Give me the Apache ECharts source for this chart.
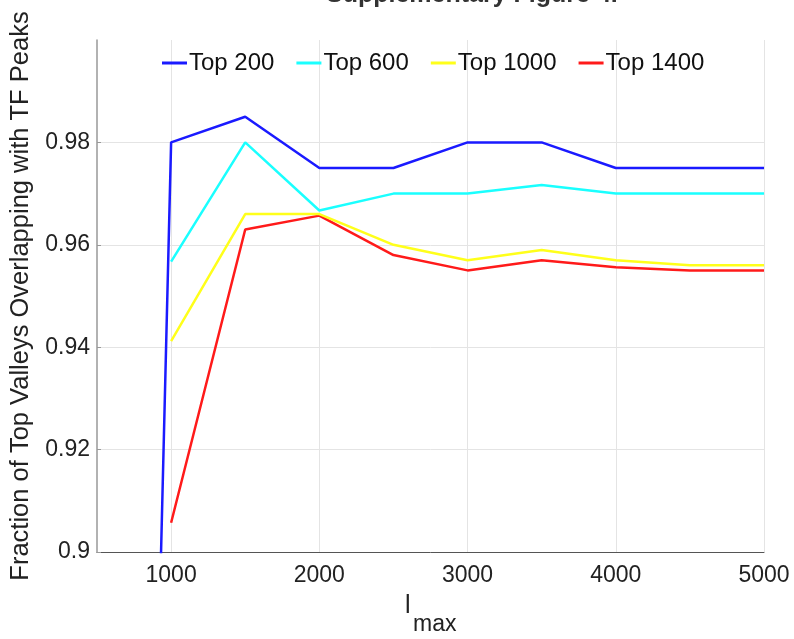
<!DOCTYPE html>
<html>
<head>
<meta charset="utf-8">
<script src="https://cdn.jsdelivr.net/npm/echarts@6/dist/echarts.min.js"></script>
<style>
  html, body { margin: 0; padding: 0; background: #fff; }
  #chart { width: 794px; height: 639px; }
</style>
</head>
<body>
<div id="chart"></div>
<script>
// l_max values where each overlap fraction was measured
const lmaxBlue = [900, 1000, 1500, 2000, 2500, 3000, 3500, 4000, 4500, 5000];
const lmax = [1000, 1500, 2000, 2500, 3000, 3500, 4000, 4500, 5000];

// Fraction of top valleys overlapping with TF peaks
const top200 = [0.862, 0.980, 0.985, 0.975, 0.975, 0.980, 0.980, 0.975, 0.975, 0.975];
const top600 = [0.9567, 0.980, 0.9667, 0.970, 0.970, 0.9717, 0.970, 0.970, 0.970];
const top1000 = [0.9412, 0.966, 0.966, 0.960, 0.957, 0.959, 0.957, 0.956, 0.956];
const top1400 = [0.9057, 0.963, 0.9657, 0.958, 0.955, 0.957, 0.9556, 0.955, 0.955];

const seriesNames = ['Top 200', 'Top 600', 'Top 1000', 'Top 1400'];
const seriesColors = ['#1a1aff', '#1affff', '#ffff1a', '#ff1a1a'];

const FONT = '"Liberation Sans", Arial, Helvetica, sans-serif';

function pairs(xs, ys) {
  return ys.map((y, i) => [xs[i], y]);
}

const chart = echarts.init(document.getElementById('chart'), null, { renderer: 'canvas' });

const lines = [
  pairs(lmaxBlue, top200),
  pairs(lmax, top600),
  pairs(lmax, top1000),
  pairs(lmax, top1400)
];

chart.setOption({
  animation: false,
  backgroundColor: '#ffffff',
  textStyle: { fontFamily: FONT },
  legend: {
    top: 51,
    left: 162,
    padding: 0,
    itemWidth: 25,
    itemHeight: 3,
    itemGap: 22,
    icon: 'rect',
    textStyle: { fontFamily: FONT, fontSize: 24, color: '#111', padding: [0, 0, 0, -3] },
    data: seriesNames
  },
  grid: { left: 97, right: 30, top: 40, bottom: 87 },
  xAxis: {
    type: 'value',
    min: 500,
    max: 5000,
    interval: 500,
    axisLine: { show: true, lineStyle: { color: '#555', width: 1 } },
    axisTick: { show: false },
    axisLabel: {
      fontFamily: FONT,
      fontSize: 23,
      color: '#222',
      margin: 12,
      formatter: v => (v % 1000 === 0 ? String(v) : '')
    },
    splitLine: {
      show: true,
      lineStyle: { color: ['rgba(0,0,0,0)', '#e4e4e4'], width: 1 }
    }
  },
  yAxis: {
    type: 'value',
    min: 0.9,
    max: 1.0,
    interval: 0.02,
    name: 'Fraction of Top Valleys Overlapping with TF Peaks',
    nameLocation: 'middle',
    nameGap: 60,
    nameTextStyle: { fontFamily: FONT, fontSize: 25.5, color: '#222' },
    axisLine: { show: true, lineStyle: { color: '#999', width: 1.5 } },
    axisTick: { show: true, inside: true, length: 4, lineStyle: { color: '#999' } },
    axisLabel: {
      fontFamily: FONT,
      fontSize: 23,
      color: '#222',
      margin: 7,
      showMaxLabel: false,
      formatter: v => (Math.abs(v - 0.9) < 1e-9 ? '0.9' : v.toFixed(2))
    },
    splitLine: {
      show: true,
      lineStyle: { color: ['#e4e4e4', '#e4e4e4', '#e4e4e4', '#e4e4e4', '#e4e4e4', 'rgba(0,0,0,0)'], width: 1 }
    }
  },
  graphic: [
    {
      type: 'text',
      left: 326,
      top: -17,
      style: { text: 'Supplementary Figure 4.', fontFamily: FONT, fontSize: 25, fontWeight: 'bold', fill: '#333' }
    },
    {
      type: 'text',
      left: 405,
      top: 594,
      style: { text: 'l', fontFamily: FONT, fontSize: 25, fill: '#222' }
    },
    {
      type: 'text',
      left: 413,
      top: 613,
      style: { text: 'max', fontFamily: FONT, fontSize: 23, fill: '#222' }
    }
  ],
  series: seriesNames.map((name, i) => ({
    name: name,
    type: 'line',
    data: lines[i],
    symbol: 'none',
    clip: true,
    lineStyle: { color: seriesColors[i], width: 2.5 },
    itemStyle: { color: seriesColors[i] },
    z: 10 - i
  }))
});
</script>
</body>
</html>
